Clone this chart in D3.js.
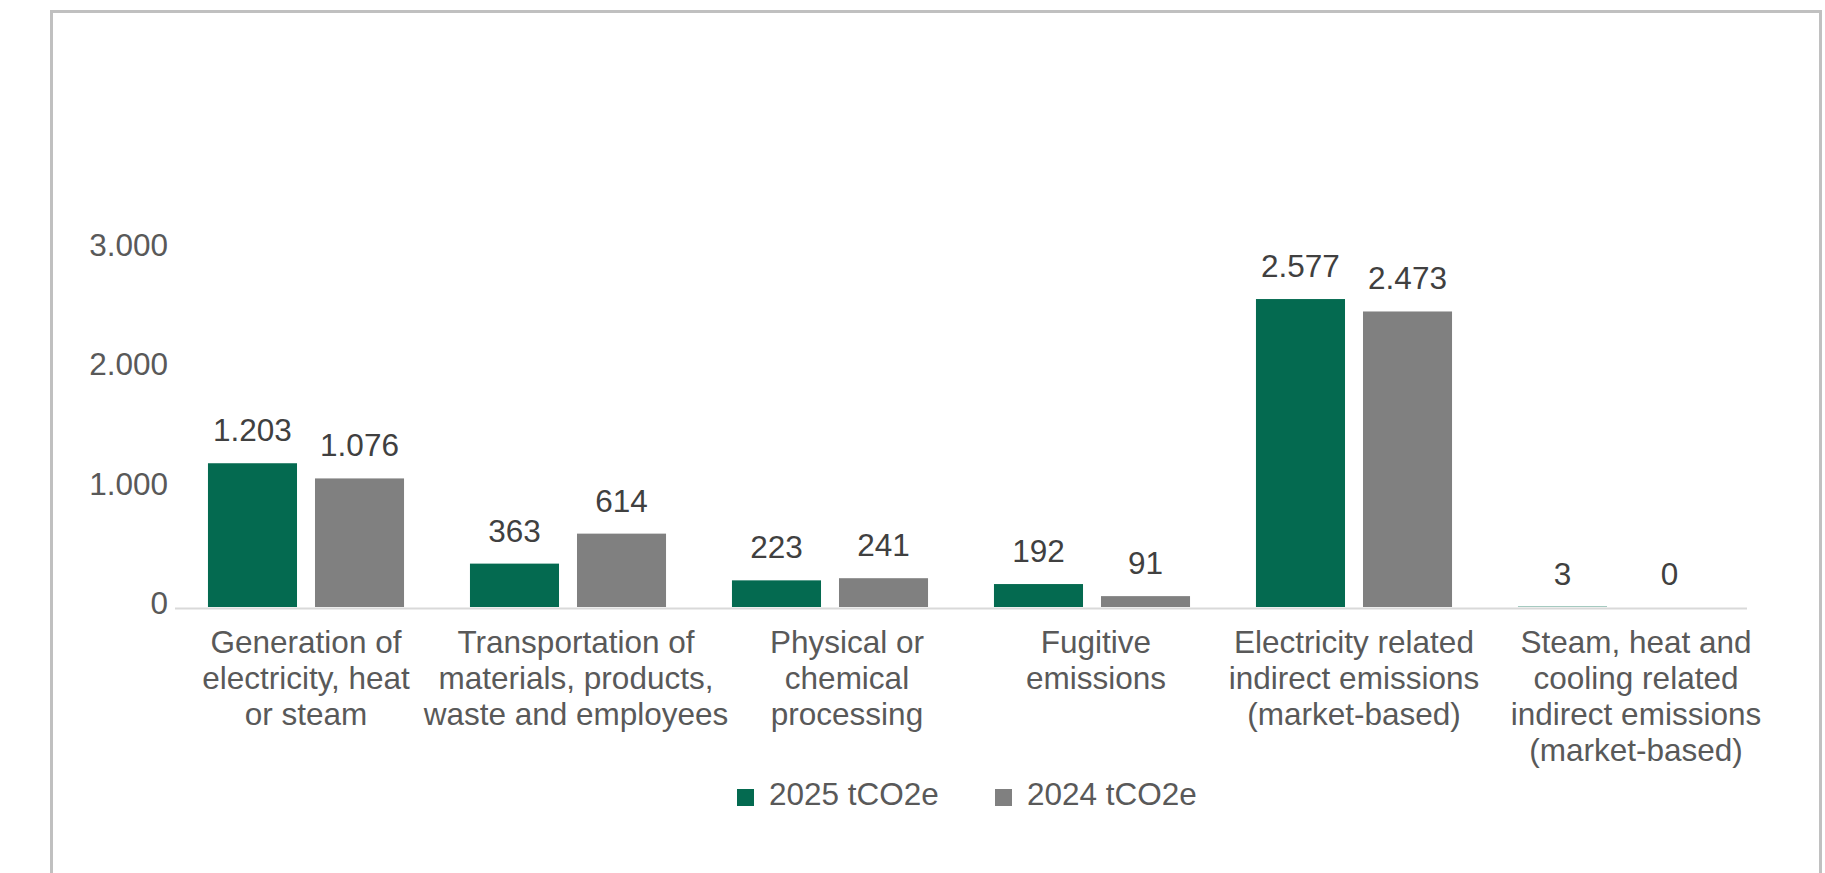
<!DOCTYPE html>
<html lang="en">
<head>
    <meta charset="UTF-8">
    <title>Emissions by source</title>
    <style>
        body { margin: 0; background: #fff; }
        text { font-family: "Liberation Sans", Arial, sans-serif; }
        .tick-label { fill: #595959; font-size: 31.5px; }
        .value-label { fill: #404040; font-size: 31.5px; text-anchor: middle; }
        .cat-label { fill: #595959; font-size: 31.5px; text-anchor: middle; }
        .legend-label { fill: #595959; font-size: 31.5px; }
    </style>
</head>
<body>
    <svg id="chart" width="1825" height="873"></svg>

    <script src="https://cdn.jsdelivr.net/npm/d3@7"></script>
    <script>
        // data
        var categories = [
            ["Generation of", "electricity, heat", "or steam"],
            ["Transportation of", "materials, products,", "waste and employees"],
            ["Physical or", "chemical", "processing"],
            ["Fugitive", "emissions"],
            ["Electricity related", "indirect emissions", "(market-based)"],
            ["Steam, heat and", "cooling related", "indirect emissions", "(market-based)"]
        ];
        var values2025 = [1203, 363, 223, 192, 2577, 3];
        var values2024 = [1076, 614, 241, 91, 2473, 0];
        var seriesNames = ["2025 tCO2e", "2024 tCO2e"];
        var seriesColors = ["#046a50", "#808080"];
        var yTicks = [0, 1000, 2000, 3000];

        // the wrapped category labels are not quite centred under their bars
        var labelShift = [0, 8, 17, 4, 0, 20];

        var locale = d3.formatLocale({ decimal: ",", thousands: ".", grouping: [3], currency: ["", ""] });
        var fmt = locale.format(",d");

        var svg = d3.select('#chart');

        // outer frame
        svg.append('rect')
            .attr('x', 51.5).attr('y', 11.5)
            .attr('width', 1769).attr('height', 900)
            .attr('fill', 'none')
            .attr('stroke', '#c0c0c0')
            .attr('stroke-width', 3);

        var idx = d3.range(categories.length);

        var x0 = d3.scaleBand()
            .domain(idx)
            .range([175, 1747]);

        var x1 = d3.scaleBand()
            .domain([0, 1])
            .range([0, x0.bandwidth()])
            .paddingInner(0.168)
            .paddingOuter(0.308);

        var y = d3.scaleLinear()
            .domain([0, 3000])
            .range([607, 248.5]);

        // y tick labels (no axis line)
        svg.append('g').selectAll('text')
            .data(yTicks)
            .enter()
            .append('text')
            .attr('class', 'tick-label')
            .attr('x', 168)
            .attr('y', function (d) { return y(d) + 7; })
            .attr('text-anchor', 'end')
            .text(function (d) { return fmt(d); });

        // baseline
        svg.append('line')
            .attr('x1', 175).attr('x2', 1747)
            .attr('y1', y(0) + 1.5).attr('y2', y(0) + 1.5)
            .attr('stroke', '#d9d9d9')
            .attr('stroke-width', 2);

        var rows = idx.map(function (i) {
            return [values2025[i], values2024[i]];
        });

        var groups = svg.append('g').selectAll('g')
            .data(rows)
            .enter()
            .append('g')
            .attr('transform', function (d, i) { return 'translate(' + x0(i) + ',0)'; });

        groups.selectAll('rect')
            .data(function (d) { return d; })
            .enter()
            .append('rect')
            .attr('x', function (d, j) { return x1(j); })
            .attr('y', function (d) { return y(d); })
            .attr('width', x1.bandwidth())
            .attr('height', function (d) { return y(0) - y(d); })
            .attr('fill', function (d, j) { return seriesColors[j]; });

        groups.selectAll('text')
            .data(function (d) { return d; })
            .enter()
            .append('text')
            .attr('class', 'value-label')
            .attr('x', function (d, j) { return x1(j) + x1.bandwidth() / 2; })
            .attr('y', function (d) { return y(d) - 22; })
            .text(function (d) { return fmt(d); });

        // category labels
        svg.append('g').selectAll('text')
            .data(categories)
            .enter()
            .append('text')
            .attr('class', 'cat-label')
            .attr('y', 653)
            .each(function (lines, i) {
                var t = d3.select(this);
                var cx = x0(i) + x0.bandwidth() / 2 + labelShift[i];
                lines.forEach(function (line, k) {
                    t.append('tspan')
                        .attr('x', cx)
                        .attr('y', 653 + k * 36)
                        .text(line);
                });
            });

        // legend
        var legendX = [737, 995];
        var legend = svg.append('g').selectAll('g')
            .data(seriesNames)
            .enter()
            .append('g')
            .attr('transform', function (d, i) { return 'translate(' + legendX[i] + ',789)'; });

        legend.append('rect')
            .attr('width', 17).attr('height', 17)
            .attr('fill', function (d, i) { return seriesColors[i]; });

        legend.append('text')
            .attr('class', 'legend-label')
            .attr('x', 32)
            .attr('y', 16)
            .text(function (d) { return d; });
    </script>
</body>
</html>
